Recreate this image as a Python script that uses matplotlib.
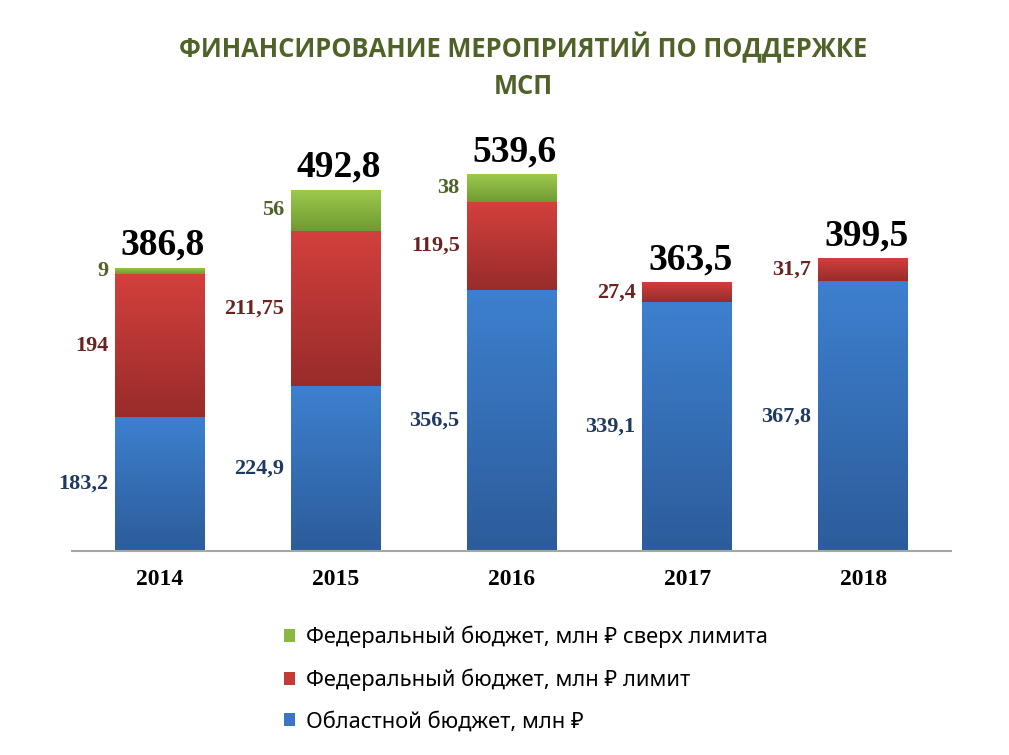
import matplotlib
matplotlib.use("Agg")
import matplotlib.pyplot as plt
import numpy as np
from matplotlib.colors import LinearSegmentedColormap
from matplotlib.patches import Patch

# ---- data ----
years = ['2014', '2015', '2016', '2017', '2018']
oblast = [183.2, 224.9, 356.5, 339.1, 367.8]
fed_limit = [194, 211.75, 119.5, 27.4, 31.7]
fed_over = [9, 56, 38, 0, 0]
totals = [386.8, 492.8, 539.6, 363.5, 399.5]
legend_labels = ['Федеральный бюджет, млн ₽ сверх лимита',
                 'Федеральный бюджет, млн ₽ лимит',
                 'Областной бюджет, млн ₽']
title_lines = ['ФИНАНСИРОВАНИЕ МЕРОПРИЯТИЙ ПО ПОДДЕРЖКЕ', 'МСП']

# ---- styles ----
W, H = 1009, 755
fig = plt.figure(figsize=(W / 100, H / 100), dpi=100)
ax = fig.add_axes([72 / W, 1 - 551 / H, (951 - 72) / W, 440 / H])

serif = ['Liberation Serif', 'DejaVu Serif']
sans = ['Noto Sans', 'DejaVu Sans']
title_font = ['Open Sans', 'Roboto', 'DejaVu Sans']

series = [
    (oblast, ('#3E80CF', '#2C5C9A'), '#1F3A60', '#3A76C3'),
    (fed_limit, ('#D3403D', '#982C2A'), '#6A2321', '#C43A36'),
    (fed_over, ('#9DCA4C', '#6F9A34'), '#4F6228', '#8AB843'),
]

x = np.arange(len(years))
width = 0.51
bottoms = np.zeros(len(years))
grad = np.linspace(1, 0, 256).reshape(-1, 1)


def fmt(v):
    return f"{v:g}".replace('.', ',')


for vals, (ctop, cbot), lblcol, _ in series:
    cmap = LinearSegmentedColormap.from_list('g', [cbot, ctop])
    vals = np.array(vals, dtype=float)
    bars = ax.bar(x, vals, width, bottom=bottoms, color='none', edgecolor='none', zorder=2)
    for xi, b, v, bar in zip(x, bottoms, vals, bars):
        if v <= 0:
            continue
        im = ax.imshow(grad, cmap=cmap, aspect='auto', interpolation='bicubic',
                       extent=[xi - width / 2, xi + width / 2, b, b + v], zorder=2)
        im.set_clip_path(bar)
        ax.annotate(fmt(v), xy=(xi - width / 2, b + v / 2), xytext=(-7, 0),
                    textcoords='offset pixels', ha='right', va='center',
                    fontsize=16, fontweight='bold', family=serif, color=lblcol)
    bottoms = bottoms + vals

for xi, top, tot in zip(x, bottoms, totals):
    ax.annotate(fmt(tot), xy=(xi, top), xytext=(3, 13), textcoords='offset pixels',
                ha='center', va='baseline', fontsize=27, fontweight='bold',
                family=serif, color='black')

ax.set_xlim(-0.5, len(years) - 0.5)
ax.set_ylim(0, 600)
for s in ['top', 'left', 'right']:
    ax.spines[s].set_visible(False)
ax.spines['bottom'].set_color('#A6A6A6')
ax.spines['bottom'].set_linewidth(1.5)
ax.set_yticks([])
ax.set_xticks(x)
ax.set_xticklabels(years, fontsize=17, fontweight='bold', family=serif)
ax.tick_params(axis='x', length=0, pad=13)

fig.text(523 / W, 1 - 48 / H, title_lines[0], ha='center', va='center',
         fontsize=18.4, fontweight='bold', family=title_font, color='#4F6228')
fig.text(523 / W, 1 - 86 / H, title_lines[1], ha='center', va='center',
         fontsize=18.4, fontweight='bold', family=title_font, color='#4F6228')

handles = [Patch(facecolor=series[2][3]), Patch(facecolor=series[1][3]),
           Patch(facecolor=series[0][3])]
fig.legend(handles, legend_labels, loc='upper left',
           bbox_to_anchor=(284 / W, 1 - 626 / H), frameon=False,
           prop={'family': sans, 'size': 15.8}, handlelength=0.52, handleheight=0.52,
           handletextpad=0.48, labelspacing=0.92, borderpad=0, borderaxespad=0)

fig.savefig('out.png', dpi=100, facecolor='white')
